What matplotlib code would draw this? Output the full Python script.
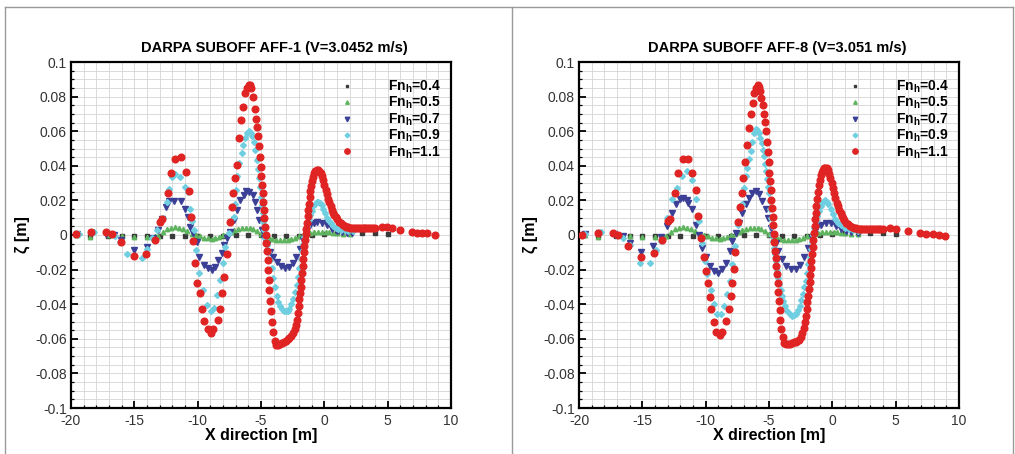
import numpy as np
import matplotlib
matplotlib.use('Agg')
import matplotlib.pyplot as plt
from matplotlib.lines import Line2D
from matplotlib.ticker import MultipleLocator

plt.rcParams['font.family'] = ['Liberation Sans', 'DejaVu Sans']
plt.rcParams['mathtext.fontset'] = 'custom'
plt.rcParams['mathtext.rm'] = 'Liberation Sans'
plt.rcParams['mathtext.bf'] = 'Liberation Sans:bold'

# wave elevation, (x [m], zeta [m])
fn04 = [(-19.6, 0.0), (-18.5, -0.0008), (-17.05, -0.0005), (-16.0, -0.0006), (-15.0, -0.0006),
        (-14.0, -0.0006), (-13.0, -0.0006), (-12.0, -0.0005), (-11.0, -0.0005), (-10.0, -0.0005),
        (-9.0, -0.0005), (-8.0, -0.0004), (-7.0, -0.0002), (-6.0, 0.0), (-5.0, -0.0002),
        (-4.0, -0.0004), (-3.0, -0.0005), (-2.0, -0.0003), (-1.0, 0.0), (0.0, 0.0006),
        (1.0, 0.0009), (2.0, 0.001), (3.0, 0.001), (4.0, 0.001), (5.0, 0.0008)]

fn05 = [(-19.5, 0.0), (-18.5, -0.001), (-17.0, 0.0), (-16.0, -0.0008), (-15.0, -0.001),
        (-14.0, -0.001), (-13.4, -0.0006), (-13.1, -0.0004), (-12.76, 0.0019), (-12.45, 0.0033),
        (-12.13, 0.0042), (-11.79, 0.0044), (-11.45, 0.0042), (-11.13, 0.0035), (-10.82, 0.0023),
        (-10.47, 0.0006), (-10.15, -0.0002), (-9.82, -0.0008), (-9.5, -0.0015), (-9.2, -0.002),
        (-8.9, -0.0022), (-8.6, -0.0018), (-8.3, -0.001), (-8.0, 0.0), (-7.7, 0.0008),
        (-7.4, 0.0018), (-7.1, 0.0028), (-6.8, 0.0036), (-6.5, 0.004), (-6.2, 0.0042),
        (-5.9, 0.004), (-5.6, 0.0032), (-5.3, 0.0022), (-5.0, 0.0008), (-4.7, -0.0005),
        (-4.4, -0.0015), (-4.1, -0.0022), (-3.8, -0.0028), (-3.5, -0.003), (-3.2, -0.003),
        (-2.9, -0.0028), (-2.6, -0.0022), (-2.3, -0.0015), (-2.0, -0.0008), (-1.7, 0.0),
        (-1.4, 0.0008), (-1.1, 0.0014), (-0.8, 0.0018), (-0.5, 0.002), (-0.2, 0.002),
        (0.1, 0.0018), (0.4, 0.0015), (0.7, 0.0012), (1.0, 0.001), (1.5, 0.0008), (2.0, 0.0005)]

aff1_fn07 = [(-19.5, 0.0003), (-18.4, 0.0012), (-17.2, 0.0008), (-16.6, 0.0), (-16.05, -0.003),
             (-15.05, -0.0085), (-14.02, -0.0067), (-13.5, -0.002), (-13.1, 0.0029), (-12.8, 0.009),
             (-12.5, 0.016), (-12.24, 0.0195), (-11.84, 0.0198), (-11.34, 0.0195), (-11.0, 0.015),
             (-10.8, 0.0106), (-10.6, 0.0048), (-10.34, 0.001), (-10.07, -0.0038), (-9.86, -0.0125),
             (-9.49, -0.0173), (-9.15, -0.0192), (-8.89, -0.0202), (-8.62, -0.0183), (-8.36, -0.0144),
             (-8.1, -0.0106), (-7.91, -0.0058), (-7.7, -0.0019), (-7.44, 0.0019), (-7.17, 0.0087),
             (-6.91, 0.0144), (-6.65, 0.0202), (-6.38, 0.0231), (-6.17, 0.0256), (-5.91, 0.025),
             (-5.65, 0.0231), (-5.46, 0.0192), (-5.28, 0.0144), (-5.12, 0.0087), (-4.94, 0.0029),
             (-4.8, -0.0019), (-4.54, -0.0058), (-4.28, -0.0096), (-4.03, -0.0125), (-3.76, -0.0155),
             (-3.45, -0.018), (-3.1, -0.0193), (-2.8, -0.0187), (-2.5, -0.0163), (-2.22, -0.0128),
             (-1.95, -0.008), (-1.68, -0.003), (-1.42, 0.0025), (-1.15, 0.0055), (-0.85, 0.007),
             (-0.55, 0.0077), (-0.2, 0.0072), (0.18, 0.0055), (0.58, 0.0035), (0.99, 0.0025),
             (1.39, 0.0017), (1.78, 0.0013), (2.2, 0.001)]

aff1_fn09 = [(-19.4, 0.0008), (-18.2, 0.0018), (-17.0, 0.001), (-16.5, -0.0005), (-16.1, -0.004),
             (-15.6, -0.0112), (-14.42, -0.0133), (-14.0, -0.008), (-13.6, -0.002), (-13.23, 0.0029),
             (-12.7, 0.0096), (-12.45, 0.0193), (-12.24, 0.0264), (-12.05, 0.0335), (-11.75, 0.0355),
             (-11.4, 0.0337), (-11.0, 0.028), (-10.8, 0.025), (-10.6, 0.0148), (-10.45, 0.008),
             (-10.3, 0.0029), (-10.12, -0.0085), (-9.89, -0.022), (-9.6, -0.0317), (-9.28, -0.0404),
             (-8.96, -0.0442), (-8.7, -0.0423), (-8.44, -0.0346), (-8.23, -0.026), (-8.0, -0.0163),
             (-7.83, -0.0067), (-7.49, 0.001), (-7.17, 0.0106), (-7.05, 0.018), (-6.97, 0.026),
             (-6.87, 0.034), (-6.71, 0.0414), (-6.53, 0.0472), (-6.39, 0.052), (-6.26, 0.0559),
             (-6.13, 0.0588), (-5.95, 0.0603), (-5.8, 0.059), (-5.68, 0.0575), (-5.55, 0.054),
             (-5.47, 0.049), (-5.34, 0.0434), (-5.21, 0.038), (-5.13, 0.0328), (-5.06, 0.0279),
             (-5.0, 0.0222), (-4.95, 0.0173), (-4.87, 0.0125), (-4.82, 0.0077), (-4.76, 0.0029),
             (-4.68, -0.002), (-4.55, -0.006), (-4.42, -0.01), (-4.28, -0.0145), (-4.15, -0.019),
             (-4.02, -0.025), (-3.9, -0.03), (-3.76, -0.035), (-3.62, -0.0385), (-3.5, -0.041),
             (-3.35, -0.043), (-3.2, -0.0438), (-3.05, -0.044), (-2.9, -0.0438), (-2.75, -0.0425),
             (-2.6, -0.04), (-2.45, -0.037), (-2.32, -0.033), (-2.19, -0.029), (-2.08, -0.024),
             (-1.97, -0.019), (-1.87, -0.014), (-1.78, -0.0095), (-1.68, -0.005), (-1.58, -0.001),
             (-1.47, 0.002), (-1.36, 0.005), (-1.24, 0.0085), (-1.12, 0.0115), (-1.0, 0.014),
             (-0.87, 0.0165), (-0.74, 0.018), (-0.6, 0.019), (-0.47, 0.0193), (-0.34, 0.0185),
             (-0.21, 0.0172), (-0.08, 0.015), (0.05, 0.0125), (0.2, 0.01), (0.35, 0.0082),
             (0.5, 0.0068), (0.7, 0.0052), (0.9, 0.0042), (1.1, 0.0035), (1.35, 0.003),
             (1.6, 0.0027), (1.9, 0.0025), (2.3, 0.0024)]

aff1_fn11 = [(-19.6, 0.0004), (-18.45, 0.0015), (-17.2, 0.0017), (-16.75, 0.0005), (-16.05, -0.004),
             (-15.05, -0.012), (-14.05, -0.011), (-13.35, -0.0029), (-12.95, 0.0077), (-12.78, 0.009),
             (-12.32, 0.024), (-12.1, 0.0356), (-11.8, 0.044), (-11.32, 0.045), (-10.92, 0.0366),
             (-10.72, 0.0256), (-10.5, 0.0102), (-10.34, -0.0033), (-10.2, -0.0164), (-10.03, -0.0276),
             (-9.85, -0.0337), (-9.65, -0.043), (-9.47, -0.0497), (-9.15, -0.0545), (-8.97, -0.0568),
             (-8.77, -0.0545), (-8.4, -0.0491), (-8.24, -0.043), (-8.05, -0.0337), (-7.92, -0.024),
             (-7.68, -0.011), (-7.45, 0.0077), (-7.3, 0.016), (-7.18, 0.024), (-7.05, 0.033),
             (-6.92, 0.0405), (-6.72, 0.056), (-6.58, 0.0665), (-6.45, 0.074), (-6.27, 0.0823),
             (-6.13, 0.0848), (-5.97, 0.0867), (-5.88, 0.0865), (-5.75, 0.0848), (-5.66, 0.08),
             (-5.5, 0.073), (-5.42, 0.067), (-5.35, 0.0626), (-5.25, 0.057), (-5.15, 0.0514),
             (-5.08, 0.045), (-5.02, 0.0395), (-4.97, 0.034), (-4.92, 0.029), (-4.87, 0.024),
             (-4.83, 0.019), (-4.78, 0.0145), (-4.73, 0.0096), (-4.68, 0.0045), (-4.63, 0.0),
             (-4.58, -0.0045), (-4.53, -0.0095), (-4.48, -0.0145), (-4.43, -0.02), (-4.38, -0.026),
             (-4.33, -0.032), (-4.28, -0.038), (-4.22, -0.044), (-4.15, -0.05), (-4.05, -0.056),
             (-3.92, -0.0615), (-3.8, -0.0635), (-3.65, -0.0638), (-3.5, -0.0632), (-3.35, -0.0625),
             (-3.2, -0.0618), (-3.05, -0.061), (-2.9, -0.06), (-2.75, -0.0595), (-2.6, -0.0585),
             (-2.45, -0.0565), (-2.35, -0.0545), (-2.25, -0.052), (-2.17, -0.049), (-2.1, -0.045),
             (-2.03, -0.041), (-1.97, -0.037), (-1.92, -0.0335), (-1.87, -0.03), (-1.82, -0.026),
             (-1.77, -0.022), (-1.72, -0.018), (-1.67, -0.014), (-1.62, -0.01), (-1.57, -0.0065),
             (-1.52, -0.003), (-1.47, 0.0005), (-1.42, 0.0035), (-1.37, 0.007), (-1.32, 0.0108),
             (-1.27, 0.0145), (-1.22, 0.018), (-1.17, 0.022), (-1.12, 0.0255), (-1.06, 0.0285),
             (-0.98, 0.0315), (-0.9, 0.0337), (-0.8, 0.0356), (-0.7, 0.0368), (-0.6, 0.0375),
             (-0.5, 0.0378), (-0.4, 0.0372), (-0.3, 0.036), (-0.2, 0.034), (-0.1, 0.0318),
             (0.0, 0.029), (0.1, 0.026), (0.2, 0.0235), (0.3, 0.021), (0.4, 0.0188),
             (0.5, 0.0165), (0.6, 0.0147), (0.7, 0.013), (0.8, 0.0115), (0.9, 0.0102),
             (1.0, 0.0091), (1.15, 0.0078), (1.3, 0.0067), (1.45, 0.0059), (1.6, 0.0053),
             (1.75, 0.0048), (1.9, 0.0045), (2.05, 0.0043), (2.2, 0.0041), (2.35, 0.004),
             (2.5, 0.0039), (2.65, 0.0039), (2.8, 0.0038), (2.95, 0.0038), (3.1, 0.0038),
             (3.25, 0.0038), (3.4, 0.0039), (3.55, 0.0039), (3.7, 0.004), (3.85, 0.0041),
             (4.0, 0.0043), (4.53, 0.0046), (4.97, 0.0046), (5.32, 0.0042), (5.97, 0.0028),
             (6.9, 0.0019), (7.29, 0.0013), (7.69, 0.001), (8.08, 0.0009), (8.74, 0.0)]

aff8_fn07 = [(-19.5, 0.0003), (-18.4, 0.001), (-17.2, 0.0005), (-16.53, -0.0006), (-16.0, -0.0044),
             (-15.08, -0.0096), (-14.16, -0.0063), (-13.5, -0.001), (-13.05, 0.0052), (-12.63, 0.013),
             (-12.37, 0.018), (-12.05, 0.021), (-11.79, 0.0215), (-11.5, 0.02), (-11.37, 0.0185),
             (-11.1, 0.0148), (-10.79, 0.006), (-10.53, 0.0), (-10.26, -0.0073), (-10.0, -0.013),
             (-9.68, -0.018), (-9.34, -0.021), (-9.0, -0.0217), (-8.68, -0.0198), (-8.37, -0.016),
             (-8.1, -0.0092), (-7.89, -0.0035), (-7.63, 0.0013), (-7.37, 0.007), (-7.11, 0.0129),
             (-6.84, 0.0177), (-6.58, 0.0215), (-6.32, 0.0244), (-6.05, 0.0254), (-5.79, 0.0235),
             (-5.53, 0.0196), (-5.26, 0.0148), (-5.05, 0.01), (-4.87, 0.0042), (-4.68, 0.0),
             (-4.47, -0.0044), (-4.26, -0.0092), (-4.0, -0.014), (-3.68, -0.0179), (-3.29, -0.0198),
             (-2.89, -0.0198), (-2.58, -0.0173), (-2.24, -0.013), (-1.89, -0.0073), (-1.58, -0.0015),
             (-1.26, 0.0033), (-0.92, 0.0058), (-0.53, 0.0071), (-0.13, 0.0067), (0.26, 0.0052),
             (0.66, 0.0033), (1.05, 0.0023), (1.5, 0.0015), (2.0, 0.001)]

aff8_fn09 = [(-19.5, 0.0004), (-18.3, 0.0015), (-17.1, 0.0008), (-16.5, -0.002), (-16.0, -0.006),
             (-15.2, -0.016), (-14.42, -0.016), (-13.9, -0.0085), (-13.5, -0.0035), (-13.05, 0.01),
             (-12.63, 0.0206), (-12.24, 0.027), (-11.84, 0.034), (-11.45, 0.037), (-11.1, 0.032),
             (-10.79, 0.0206), (-10.53, 0.008), (-10.26, -0.0044), (-10.05, -0.015), (-9.87, -0.0227),
             (-9.6, -0.032), (-9.34, -0.04), (-9.08, -0.0458), (-8.82, -0.0458), (-8.55, -0.041),
             (-8.29, -0.034), (-8.1, -0.0265), (-7.89, -0.017), (-7.71, -0.0063), (-7.42, 0.006),
             (-7.11, 0.0177), (-6.97, 0.0273), (-6.84, 0.034), (-6.71, 0.0388), (-6.58, 0.044),
             (-6.45, 0.0485), (-6.32, 0.054), (-6.18, 0.059), (-6.05, 0.061), (-5.92, 0.0605),
             (-5.79, 0.059), (-5.68, 0.056), (-5.58, 0.053), (-5.48, 0.049), (-5.39, 0.0456),
             (-5.3, 0.041), (-5.21, 0.037), (-5.14, 0.0325), (-5.08, 0.028), (-5.02, 0.024),
             (-4.95, 0.0196), (-4.9, 0.015), (-4.84, 0.01), (-4.79, 0.005), (-4.74, 0.0),
             (-4.67, -0.0037), (-4.6, -0.0073), (-4.53, -0.011), (-4.47, -0.015), (-4.38, -0.02),
             (-4.29, -0.0246), (-4.18, -0.0285), (-4.08, -0.032), (-3.97, -0.035), (-3.87, -0.038),
             (-3.72, -0.041), (-3.55, -0.0438), (-3.35, -0.0455), (-3.16, -0.0467), (-3.0, -0.0465),
             (-2.84, -0.0454), (-2.7, -0.0435), (-2.58, -0.041), (-2.45, -0.0378), (-2.32, -0.034),
             (-2.21, -0.03), (-2.11, -0.0265), (-2.0, -0.022), (-1.89, -0.017), (-1.8, -0.0125),
             (-1.71, -0.0083), (-1.62, -0.004), (-1.53, 0.0), (-1.43, 0.004), (-1.32, 0.008),
             (-1.19, 0.011), (-1.05, 0.0138), (-0.92, 0.0165), (-0.79, 0.0187), (-0.68, 0.0197),
             (-0.58, 0.02), (-0.45, 0.0192), (-0.32, 0.0177), (-0.14, 0.015), (0.05, 0.012),
             (0.25, 0.0093), (0.45, 0.0071), (0.7, 0.0055), (0.97, 0.0042), (1.3, 0.0033),
             (1.63, 0.0027), (2.0, 0.0024)]

aff8_fn11 = [(-19.74, 0.0), (-18.5, 0.0012), (-17.3, 0.001), (-16.9, 0.0), (-16.13, -0.0062),
             (-15.13, -0.0125), (-14.1, -0.0103), (-13.42, -0.0029), (-12.97, 0.008), (-12.8, 0.0095),
             (-12.45, 0.024), (-12.15, 0.036), (-11.79, 0.044), (-11.37, 0.044), (-11.1, 0.036),
             (-10.79, 0.026), (-10.58, 0.011), (-10.35, -0.0015), (-10.13, -0.0127), (-9.95, -0.0208),
             (-9.82, -0.028), (-9.68, -0.036), (-9.55, -0.043), (-9.35, -0.05), (-9.16, -0.0563),
             (-8.9, -0.058), (-8.68, -0.0563), (-8.37, -0.0496), (-8.16, -0.043), (-8.03, -0.035),
             (-7.92, -0.0275), (-7.79, -0.0198), (-7.68, -0.01), (-7.47, 0.0077), (-7.3, 0.016),
             (-7.16, 0.024), (-7.03, 0.033), (-6.9, 0.042), (-6.75, 0.052), (-6.6, 0.062),
             (-6.45, 0.07), (-6.3, 0.0765), (-6.15, 0.082), (-6.0, 0.085), (-5.9, 0.0865),
             (-5.8, 0.0855), (-5.7, 0.083), (-5.6, 0.079), (-5.5, 0.075), (-5.42, 0.07),
             (-5.33, 0.0655), (-5.25, 0.06), (-5.15, 0.054), (-5.08, 0.048), (-5.02, 0.042),
             (-4.97, 0.036), (-4.92, 0.031), (-4.87, 0.026), (-4.82, 0.0205), (-4.77, 0.0155),
             (-4.72, 0.0105), (-4.67, 0.0055), (-4.62, 0.0005), (-4.57, -0.004), (-4.52, -0.009),
             (-4.47, -0.0135), (-4.42, -0.018), (-4.37, -0.0225), (-4.32, -0.028), (-4.27, -0.033),
             (-4.22, -0.038), (-4.16, -0.0435), (-4.1, -0.049), (-4.02, -0.0545), (-3.92, -0.059),
             (-3.8, -0.0622), (-3.65, -0.0632), (-3.5, -0.0632), (-3.35, -0.0628), (-3.2, -0.0622),
             (-3.05, -0.062), (-2.9, -0.0618), (-2.75, -0.0615), (-2.6, -0.0605), (-2.47, -0.059),
             (-2.36, -0.0565), (-2.26, -0.0535), (-2.18, -0.0505), (-2.1, -0.047), (-2.03, -0.043),
             (-1.97, -0.039), (-1.91, -0.035), (-1.85, -0.031), (-1.8, -0.027), (-1.75, -0.023),
             (-1.7, -0.019), (-1.65, -0.015), (-1.6, -0.011), (-1.55, -0.007), (-1.5, -0.003),
             (-1.45, 0.001), (-1.4, 0.005), (-1.35, 0.009), (-1.3, 0.013), (-1.25, 0.017),
             (-1.2, 0.021), (-1.14, 0.025), (-1.08, 0.029), (-1.0, 0.032), (-0.92, 0.0345),
             (-0.83, 0.0365), (-0.74, 0.0378), (-0.65, 0.0386), (-0.55, 0.039), (-0.45, 0.0386),
             (-0.35, 0.0375), (-0.25, 0.0355), (-0.15, 0.033), (-0.05, 0.03), (0.05, 0.027),
             (0.15, 0.024), (0.25, 0.0212), (0.35, 0.0187), (0.45, 0.0165), (0.55, 0.0145),
             (0.65, 0.0127), (0.75, 0.0112), (0.85, 0.0098), (0.95, 0.0086), (1.1, 0.0072),
             (1.25, 0.0061), (1.4, 0.0053), (1.55, 0.0047), (1.7, 0.0042), (1.85, 0.0039),
             (2.0, 0.0037), (2.15, 0.0035), (2.3, 0.0034), (2.45, 0.0033), (2.6, 0.0033),
             (2.75, 0.0033), (2.9, 0.0033), (3.05, 0.0033), (3.2, 0.0033), (3.35, 0.0034),
             (3.5, 0.0034), (3.65, 0.0035), (3.8, 0.0035), (4.0, 0.0037), (4.53, 0.0038),
             (5.0, 0.0037), (5.97, 0.0023), (6.89, 0.001), (7.42, 0.0004), (7.95, 0.0004),
             (8.4, 0.0), (8.87, -0.0006)]

labels = [r'Fn$_\mathbf{h}$=0.4', r'Fn$_\mathbf{h}$=0.5', r'Fn$_\mathbf{h}$=0.7',
          r'Fn$_\mathbf{h}$=0.9', r'Fn$_\mathbf{h}$=1.1']
markers = ['s', '^', 'v', 'D', 'o']
sizes = [2.6, 3.2, 4.0, 3.0, 4.8]
colors = ['#3a3a3a', '#5fb55f', '#3b3f96', '#6fcfe0', '#e02424']

xticks = [-20, -15, -10, -5, 0, 5, 10]
yticks = [0.1, 0.08, 0.06, 0.04, 0.02, 0, -0.02, -0.04, -0.06, -0.08, -0.1]
ytick_labels = ['0.1', '0.08', '0.06', '0.04', '0.02', '0', '-0.02', '-0.04', '-0.06', '-0.08', '-0.1']

W, H = 1015, 454
fig = plt.figure(figsize=(W / 100, H / 100), dpi=100)

# grey page frame
def px_line(x0, y0, x1, y1):
    fig.add_artist(Line2D([x0 / W, x1 / W], [1 - y0 / H, 1 - y1 / H],
                          color='#9a9a9a', lw=1.0))

px_line(5, 7, 1013, 7)
px_line(5, 7, 5, 454)
px_line(512, 7, 512, 454)
px_line(1013, 7, 1013, 454)


def draw_panel(left_px, title, title_x, series):
    ax = fig.add_axes([left_px / W, 46 / H, 380 / W, 346 / H])
    for pts, lab, m, s, c in zip(series, labels, markers, sizes, colors):
        arr = np.array(pts)
        ax.plot(arr[:, 0], arr[:, 1], linestyle='none', marker=m, ms=s,
                color=c, mec=c, label=lab, zorder=3)
    ax.set_xlim(-20, 10)
    ax.set_ylim(-0.1, 0.1)
    ax.set_xticks(xticks)
    ax.set_xticklabels([str(t) for t in xticks])
    ax.set_yticks(yticks)
    ax.set_yticklabels(ytick_labels)
    ax.xaxis.set_minor_locator(MultipleLocator(1))
    ax.yaxis.set_minor_locator(MultipleLocator(0.005))
    ax.grid(which='both', color='#d4d4d4', lw=0.6)
    ax.set_axisbelow(True)
    ax.tick_params(which='major', direction='in', length=5, width=1.3,
                   labelsize=10, labelcolor='#333333')
    ax.tick_params(axis='x', which='major', pad=4)
    ax.tick_params(axis='y', which='major', pad=3)
    ax.tick_params(which='minor', direction='in', length=2.5, width=0.9)
    for sp in ax.spines.values():
        sp.set_linewidth(1.6)
    ax.text(title_x, 1.04, title, transform=ax.transAxes, ha='center', va='center',
            fontsize=10.5, fontweight='bold')
    ax.set_xlabel('X direction [m]', fontsize=11.5, fontweight='bold', labelpad=0)
    ax.set_ylabel('ζ [m]', fontsize=11.5, fontweight='bold', labelpad=4)
    ax.legend(loc='upper left', bbox_to_anchor=(0.708, 0.952), frameon=False,
              handlelength=1.0, handletextpad=2.45, labelspacing=0.0,
              borderpad=0, borderaxespad=0, numpoints=1, markerscale=0.8,
              prop={'size': 10, 'weight': 'bold'})
    return ax


draw_panel(71, 'DARPA SUBOFF AFF-1 (V=3.0452 m/s)', 0.534,
           [fn04, fn05, aff1_fn07, aff1_fn09, aff1_fn11])
draw_panel(579, 'DARPA SUBOFF AFF-8 (V=3.051 m/s)', 0.522,
           [fn04, fn05, aff8_fn07, aff8_fn09, aff8_fn11])

fig.savefig('out.png', dpi=100)
